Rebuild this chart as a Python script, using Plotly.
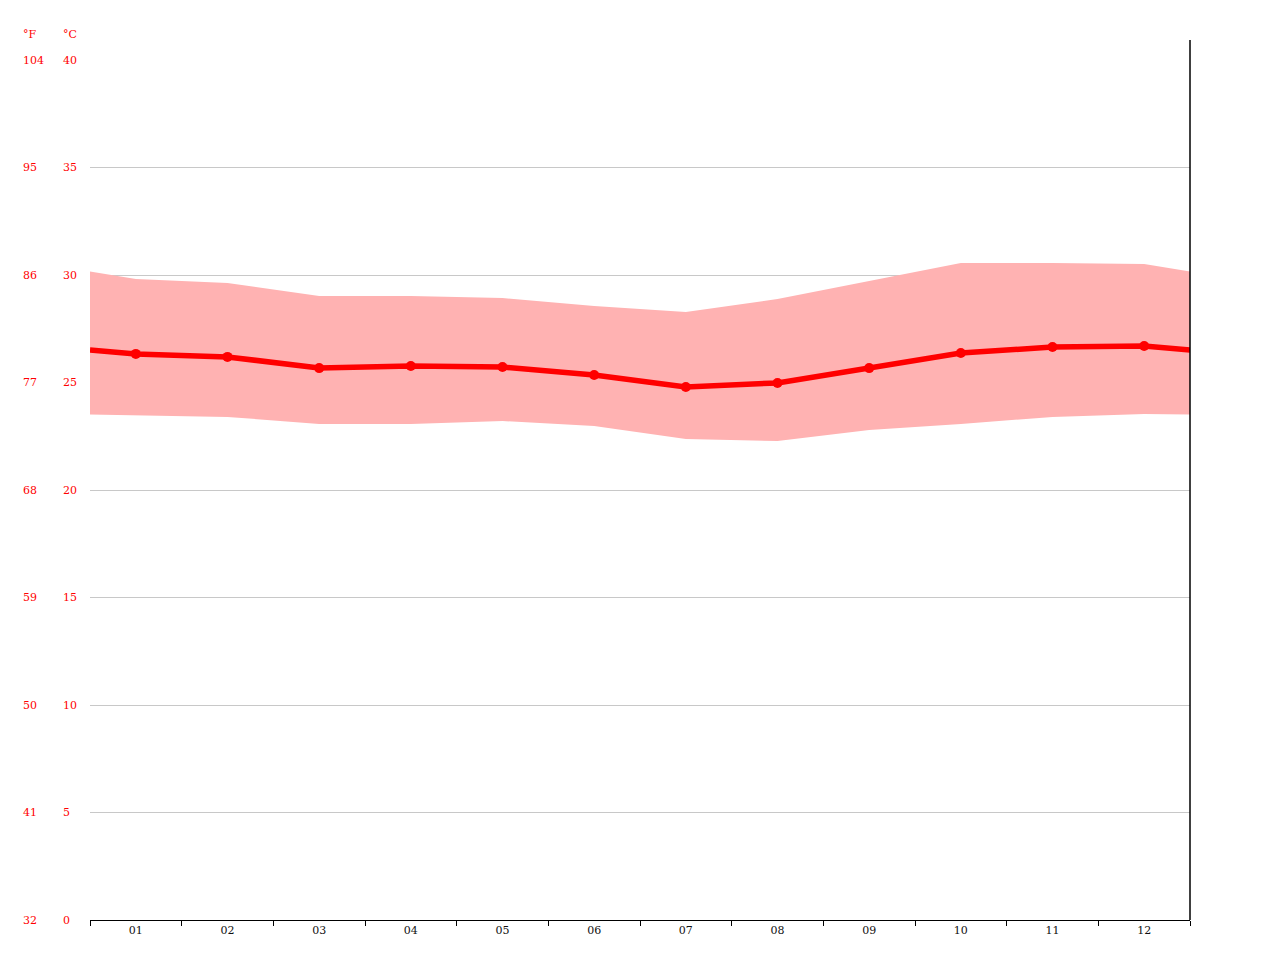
import plotly.graph_objects as go

months = list(range(1, 13))
month_labels = ["01", "02", "03", "04", "05", "06", "07", "08", "09", "10", "11", "12"]
temp_mean = [26.33, 26.19, 25.67, 25.77, 25.72, 25.35, 24.79, 24.98, 25.67, 26.37, 26.65, 26.70]
temp_max = [29.81, 29.63, 29.02, 29.02, 28.93, 28.56, 28.28, 28.88, 29.72, 30.56, 30.56, 30.51]
temp_min = [23.49, 23.40, 23.07, 23.07, 23.21, 22.98, 22.37, 22.28, 22.79, 23.07, 23.40, 23.53]
c_ticks = [0, 5, 10, 15, 20, 25, 30, 35, 40]
f_labels = ["32", "41", "50", "59", "68", "77", "86", "95", "104"]


def wrap(vals):
    edge = (vals[0] + vals[-1]) / 2
    return [edge] + vals + [edge]


xs = [0.5] + months + [12.5]
up = wrap(temp_max)
lo = wrap(temp_min)
mean = wrap(temp_mean)

fig = go.Figure()
fig.add_trace(go.Scatter(
    x=xs + xs[::-1], y=up + lo[::-1], fill="toself", mode="lines",
    line=dict(width=0), fillcolor="rgb(255,178,178)", hoverinfo="skip", showlegend=False))
fig.add_trace(go.Scatter(
    x=xs, y=mean, mode="lines", line=dict(color="#ff0000", width=5.5),
    showlegend=False))
fig.add_trace(go.Scatter(
    x=months, y=temp_mean, mode="markers", marker=dict(color="#ff0000", size=10),
    showlegend=False))

font = "DejaVu Serif"
ann = []
for c, f in zip(c_ticks, f_labels):
    ann.append(dict(x=(61 - 90) / 1100, y=c, xref="paper", yref="y", text=str(c),
                    showarrow=False, xanchor="left", yanchor="middle",
                    font=dict(family=font, size=11, color="#ff0000")))
    ann.append(dict(x=(21 - 90) / 1100, y=c, xref="paper", yref="y", text=f,
                    showarrow=False, xanchor="left", yanchor="middle",
                    font=dict(family=font, size=11, color="#ff0000")))
for t, xp in (("°F", 21), ("°C", 61)):
    ann.append(dict(x=(xp - 90) / 1100, y=1 + 25 / 860, xref="paper", yref="paper", text=t,
                    showarrow=False, xanchor="left", yanchor="middle",
                    font=dict(family=font, size=11, color="#ff0000")))

fig.update_layout(
    width=1280, height=960,
    margin=dict(l=82, r=98, t=52, b=48),
    paper_bgcolor="white", plot_bgcolor="white",
    annotations=ann,
    shapes=[dict(type="line", xref="paper", yref="paper", x0=1, x1=1, y0=0, y1=1 + 20 / 860,
                 line=dict(color="black", width=1.5))],
    xaxis=dict(range=[0.5, 12.5], tickvals=months, ticktext=month_labels, ticks="",
               showgrid=False, zeroline=False, showline=True, linecolor="black", linewidth=1,
               tickfont=dict(family=font, size=11, color="#111"),
               minor=dict(tick0=0.5, dtick=1, ticks="outside", ticklen=5, tickcolor="black",
                          tickwidth=1, showgrid=False)),
    yaxis=dict(range=[0, 40], tickvals=c_ticks, showticklabels=False, ticks="",
               showgrid=True, gridcolor="#c8c8c8", gridwidth=1, zeroline=False, showline=False),
)
fig.write_html("out.html")
